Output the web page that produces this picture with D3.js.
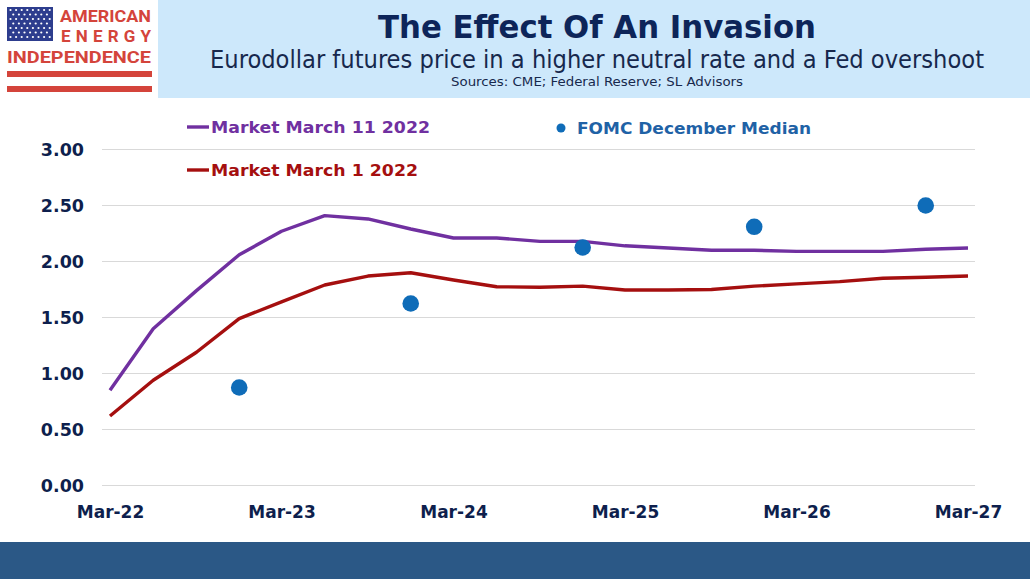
<!DOCTYPE html>
<html>
<head>
<meta charset="utf-8">
<script src="https://cdn.jsdelivr.net/npm/d3@7"></script>
<style>
  body { margin: 0; background: #fff; }
  svg { display: block; }
</style>
</head>
<body>
<div id="chart"></div>
<script>
// quarterly points, Mar-22 .. Mar-27
let quarters = ["Mar-22","Jun-22","Sep-22","Dec-22","Mar-23","Jun-23","Sep-23","Dec-23",
                "Mar-24","Jun-24","Sep-24","Dec-24","Mar-25","Jun-25","Sep-25","Dec-25",
                "Mar-26","Jun-26","Sep-26","Dec-26","Mar-27"];
let march11 = [0.85, 1.40, 1.74, 2.06, 2.27, 2.41, 2.38, 2.29, 2.21, 2.21, 2.18,
               2.18, 2.14, 2.12, 2.10, 2.10, 2.09, 2.09, 2.09, 2.11, 2.12];
let march1 = [0.62, 0.94, 1.19, 1.49, 1.64, 1.79, 1.87, 1.90, 1.835, 1.775, 1.77,
              1.78, 1.745, 1.745, 1.75, 1.78, 1.80, 1.82, 1.85, 1.86, 1.87];

let fomcDates = ["Dec-22","Dec-23","Dec-24","Dec-25","Dec-26"];
let fomcMedian = [0.875, 1.625, 2.125, 2.31, 2.50];

let xTicks = ["Mar-22","Mar-23","Mar-24","Mar-25","Mar-26","Mar-27"];
let yTicks = [0, 0.5, 1, 1.5, 2, 2.5, 3];

let purple = "#7030a0", red = "#a50f0f", blue = "#0f6cb8", navy = "#0e1f4d";

let W = 1030, H = 579;
let parse = d3.timeParse("%b-%y");

let svg = d3.select("#chart").append("svg")
    .attr("width", W)
    .attr("height", H);

// header band
svg.append("rect").attr("x", 158).attr("y", 0).attr("width", W - 158).attr("height", 98)
    .attr("fill", "#cde8fb");
// footer band
svg.append("rect").attr("x", 0).attr("y", 542).attr("width", W).attr("height", H - 542)
    .attr("fill", "#2b5886");

// logo
let logo = svg.append("g");
logo.append("rect").attr("x", 7).attr("y", 7).attr("width", 46).attr("height", 34).attr("fill", "#2d3d8e");
for (let r = 0; r < 7; r++) {
  for (let c = 0; c < (r % 2 ? 7 : 8); c++) {
    logo.append("circle")
        .attr("cx", 10.5 + c * 5.6 + (r % 2 ? 2.8 : 0))
        .attr("cy", 10 + r * 4.5)
        .attr("r", 1.1)
        .attr("fill", "#fff");
  }
}
logo.append("text").attr("x", 60).attr("y", 22).attr("textLength", 91).attr("lengthAdjust", "spacingAndGlyphs")
    .attr("font-family", "Roboto, sans-serif").attr("font-weight", 700).attr("font-size", 17)
    .attr("fill", "#d4443b").text("AMERICAN");
logo.append("text").attr("x", 61).attr("y", 42).attr("textLength", 90).attr("lengthAdjust", "spacing")
    .attr("font-family", "Roboto, sans-serif").attr("font-weight", 700).attr("font-size", 17)
    .attr("fill", "#d4443b").text("ENERGY");
logo.append("text").attr("x", 7).attr("y", 63).attr("textLength", 144).attr("lengthAdjust", "spacingAndGlyphs")
    .attr("font-family", "Roboto, sans-serif").attr("font-weight", 700).attr("font-size", 17)
    .attr("fill", "#d4443b").text("INDEPENDENCE");
logo.append("rect").attr("x", 7).attr("y", 71).attr("width", 145).attr("height", 6).attr("fill", "#d4443b");
logo.append("rect").attr("x", 7).attr("y", 86).attr("width", 145).attr("height", 6).attr("fill", "#d4443b");

// titles
svg.append("text").attr("x", 597).attr("y", 38).attr("text-anchor", "middle")
    .attr("textLength", 438).attr("lengthAdjust", "spacingAndGlyphs")
    .attr("font-family", "'DejaVu Sans Condensed', 'DejaVu Sans', sans-serif").attr("font-weight", 700)
    .attr("font-size", 32).attr("fill", "#0d2559").text("The Effect Of An Invasion");
svg.append("text").attr("x", 597).attr("y", 68).attr("text-anchor", "middle")
    .attr("textLength", 774).attr("lengthAdjust", "spacingAndGlyphs")
    .attr("font-family", "'DejaVu Sans Condensed', 'DejaVu Sans', sans-serif")
    .attr("font-size", 24).attr("fill", "#17284d")
    .text("Eurodollar futures price in a higher neutral rate and a Fed overshoot");
svg.append("text").attr("x", 597).attr("y", 86).attr("text-anchor", "middle")
    .attr("textLength", 292).attr("lengthAdjust", "spacingAndGlyphs")
    .attr("font-family", "'DejaVu Sans Condensed', 'DejaVu Sans', sans-serif")
    .attr("font-size", 13).attr("fill", "#17284d")
    .text("Sources: CME; Federal Reserve; SL Advisors");

// scales
let x = d3.scaleTime()
    .domain([parse("Mar-22"), parse("Mar-27")])
    .range([110, 968]);
let y = d3.scaleLinear()
    .domain([0, 3])
    .range([485.5, 149.5]);

// gridlines
svg.append("g")
    .selectAll("line")
    .data(yTicks)
    .enter().append("line")
    .attr("x1", 102).attr("x2", 975)
    .attr("y1", d => y(d)).attr("y2", d => y(d))
    .attr("stroke", "#d9d9d9").attr("stroke-width", 1.2);

// axes
let yAxis = d3.axisLeft(y).tickValues(yTicks).tickFormat(d3.format(".2f")).tickSize(0).tickPadding(0);
let gy = svg.append("g").attr("transform", "translate(84,0)").call(yAxis);
gy.select(".domain").remove();
gy.selectAll("text")
    .attr("font-family", "'DejaVu Sans', Verdana, sans-serif").attr("font-weight", 700)
    .attr("font-size", 17.5).attr("fill", navy);

let xAxis = d3.axisBottom(x).tickValues(xTicks.map(parse)).tickFormat(d3.timeFormat("%b-%y")).tickSize(0).tickPadding(0);
let gx = svg.append("g").attr("transform", "translate(0,506)").call(xAxis);
gx.select(".domain").remove();
gx.selectAll("text")
    .attr("font-family", "'DejaVu Sans', Verdana, sans-serif").attr("font-weight", 700)
    .attr("font-size", 17).attr("fill", navy);

// lines
let line = d3.line()
    .x((d, i) => x(parse(quarters[i])))
    .y(d => y(d));

svg.append("path").datum(march1)
    .attr("d", line).attr("fill", "none")
    .attr("stroke", red).attr("stroke-width", 3.4).attr("stroke-linejoin", "round");
svg.append("path").datum(march11)
    .attr("d", line).attr("fill", "none")
    .attr("stroke", purple).attr("stroke-width", 3.4).attr("stroke-linejoin", "round");

// FOMC dots
svg.selectAll(".fomc")
    .data(fomcMedian)
    .enter().append("circle")
    .attr("class", "fomc")
    .attr("cx", (d, i) => x(parse(fomcDates[i])))
    .attr("cy", d => y(d))
    .attr("r", 8.3)
    .attr("fill", blue);

// legend
let legend = svg.append("g")
    .attr("font-family", "'DejaVu Sans', Verdana, sans-serif").attr("font-weight", 700).attr("font-size", 16.5);

legend.append("line").attr("x1", 187).attr("x2", 209).attr("y1", 127).attr("y2", 127)
    .attr("stroke", purple).attr("stroke-width", 3.4);
legend.append("text").attr("x", 211).attr("y", 133).attr("textLength", 219).attr("lengthAdjust", "spacingAndGlyphs")
    .attr("fill", purple).text("Market March 11 2022");

legend.append("line").attr("x1", 187).attr("x2", 209).attr("y1", 170).attr("y2", 170)
    .attr("stroke", red).attr("stroke-width", 3.4);
legend.append("text").attr("x", 211).attr("y", 176).attr("textLength", 207).attr("lengthAdjust", "spacingAndGlyphs")
    .attr("fill", red).text("Market March 1 2022");

legend.append("circle").attr("cx", 561).attr("cy", 128).attr("r", 4.5).attr("fill", blue);
legend.append("text").attr("x", 577).attr("y", 134).attr("textLength", 234).attr("lengthAdjust", "spacingAndGlyphs")
    .attr("fill", "#1f62a6").text("FOMC December Median");
</script>
</body>
</html>
